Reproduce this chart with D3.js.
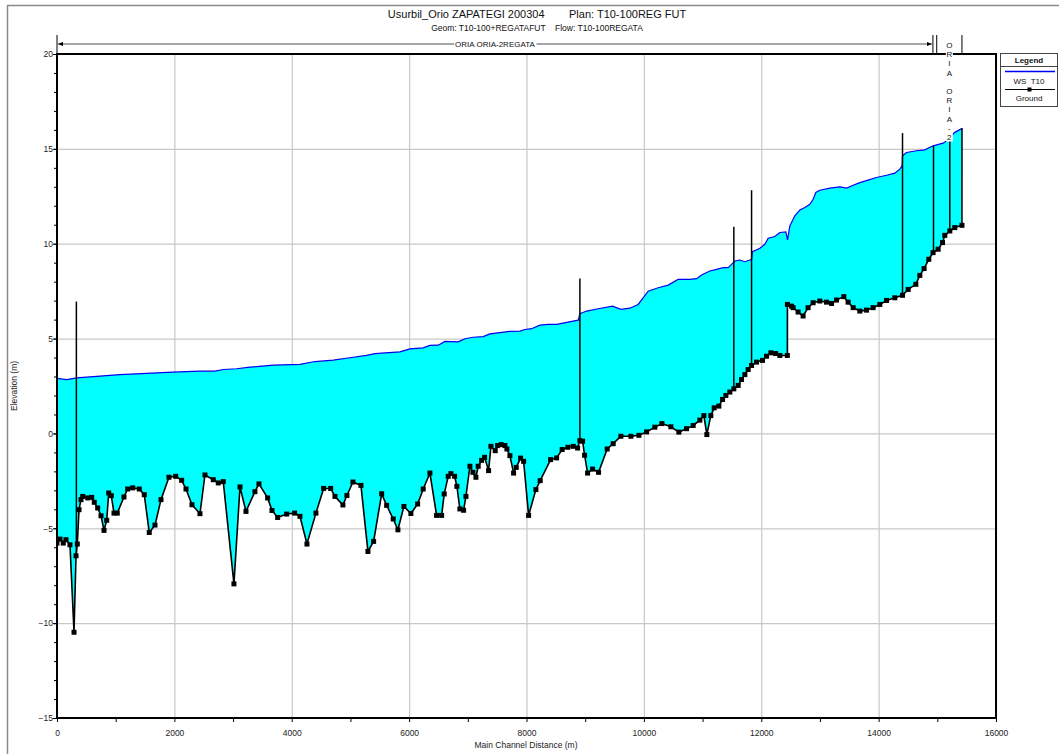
<!DOCTYPE html>
<html>
<head>
<meta charset="utf-8">
<script src="https://cdn.jsdelivr.net/npm/d3@7"></script>
<style>
  body { margin: 0; background: #fff; }
  svg { display: block; font-family: "Liberation Sans", Arial, sans-serif; }
</style>
</head>
<body>
<svg id="chart" width="1059" height="754"></svg>
<script>
// water surface profile (WS T10)
const wsDist = [0, 165, 336, 1073, 1976, 2436, 2692, 2833, 3061, 3288, 3685, 4140, 4395, 4707, 4991,
  5276, 5417, 5843, 6014, 6240, 6354, 6496, 6610, 6837, 6951, 7092, 7263, 7376, 7547, 7717, 7888,
  7973, 8087, 8228, 8370, 8513, 8881, 8910, 9024, 9221, 9467, 9608, 9761, 9903, 10073, 10244, 10414,
  10584, 10784, 10898, 10983, 11124, 11238, 11351, 11436, 11494, 11550, 11635, 11721, 11806, 11835,
  11852, 11976, 12061, 12118, 12232, 12317, 12419, 12448, 12487, 12572, 12658, 12743, 12828, 12884,
  12930, 12998, 13169, 13339, 13453, 13566, 13680, 13821, 13964, 14135, 14276, 14361, 14400, 14407,
  14475, 14645, 14787, 14928, 15099, 15156, 15241, 15298, 15425];
const wsElev = [2.9, 2.84, 2.93, 3.1, 3.23, 3.28, 3.28, 3.37, 3.41, 3.49, 3.6, 3.64, 3.79, 3.86, 3.99,
  4.11, 4.21, 4.3, 4.46, 4.51, 4.64, 4.65, 4.85, 4.83, 4.99, 5.07, 5.1, 5.25, 5.31, 5.38, 5.39,
  5.48, 5.52, 5.71, 5.75, 5.75, 5.97, 6.31, 6.45, 6.57, 6.71, 6.54, 6.6, 6.8, 7.5, 7.68, 7.82,
  8.12, 8.12, 8.16, 8.35, 8.56, 8.65, 8.74, 8.74, 8.91, 9.09, 9.14, 9.05, 9.14, 9.18,
  9.58, 9.76, 9.97, 10.29, 10.38, 10.59, 10.62, 10.2, 10.94, 11.47, 11.78, 11.91, 12.08, 12.34,
  12.7, 12.82, 12.93, 13.0, 12.93, 13.08, 13.22, 13.35, 13.49, 13.61, 13.72, 13.93, 14.1, 14.63,
  14.81, 14.9, 14.95, 15.16, 15.3, 15.42, 15.69, 15.87, 16.08];

// ground (channel invert) profile
const groundDist = [0, 51, 107, 153, 221, 290, 324, 346, 375, 409, 438, 523, 591, 635, 693, 750, 801,
  847, 881, 925, 971, 1027, 1141, 1204, 1290, 1402, 1487, 1572, 1670, 1772, 1908, 2022, 2124, 2198,
  2300, 2436, 2521, 2663, 2748, 2833, 3015, 3118, 3220, 3373, 3441, 3589, 3663, 3760, 3913, 4049,
  4140, 4259, 4412, 4543, 4663, 4736, 4872, 4940, 5043, 5179, 5298, 5395, 5532, 5617, 5729, 5809,
  5911, 6030, 6145, 6240, 6354, 6468, 6554, 6598, 6666, 6712, 6775, 6814, 6865, 6928, 6968, 7036,
  7087, 7138, 7177, 7235, 7286, 7354, 7394, 7467, 7508, 7569, 7632, 7666, 7717, 7780, 7825, 7899,
  7951, 8036, 8160, 8233, 8411, 8513, 8608, 8705, 8796, 8871, 8910, 8956, 8990, 9041, 9126, 9228,
  9375, 9477, 9608, 9779, 9915, 10046, 10187, 10307, 10460, 10596, 10727, 10840, 10954, 11022, 11073,
  11141, 11198, 11278, 11341, 11397, 11465, 11533, 11607, 11664, 11721, 11777, 11835, 11920, 12022,
  12090, 12164, 12244, 12317, 12445, 12446, 12516, 12543, 12628, 12713, 12798, 12884, 12998, 13112,
  13198, 13283, 13407, 13480, 13566, 13680, 13794, 13906, 14020, 14135, 14276, 14407, 14503, 14634,
  14702, 14775, 14855, 14928, 15014, 15089, 15128, 15213, 15298, 15420];
const groundElev = [-5.78, -5.57, -5.78, -5.6, -5.87, -10.48, -6.45, -5.83, -4.02, -3.49, -3.32, -3.4,
  -3.37, -3.63, -3.93, -4.34, -5.11, -4.58, -3.14, -3.28, -4.2, -4.2, -3.35, -2.93, -2.87, -2.93, -3.23,
  -5.22, -4.83, -3.49, -2.31, -2.26, -2.47, -2.93, -3.76, -4.23, -2.19, -2.44, -2.61, -2.54, -7.93,
  -2.82, -4.11, -3.07, -2.66, -3.4, -4.06, -4.43, -4.25, -4.2, -4.37, -5.83, -4.2, -2.9, -2.9, -3.32,
  -3.77, -3.27, -2.56, -2.74, -6.22, -5.69, -3.18, -3.79, -4.51, -5.08, -3.85, -4.22, -3.72, -2.93,
  -2.09, -4.32, -4.32, -3.19, -2.26, -2.12, -2.26, -2.79, -3.98, -4.05, -3.32, -1.73, -2.05, -2.31,
  -1.73, -1.42, -1.26, -1.96, -0.68, -0.91, -0.64, -0.59, -0.64, -0.82, -1.17, -2.09, -1.79, -1.3,
  -1.47, -4.32, -2.96, -2.49, -1.38, -1.29, -0.85, -0.73, -0.68, -0.77, -0.38, -0.41, -1.15, -2.09,
  -1.88, -2.05, -0.82, -0.54, -0.15, -0.15, -0.1, 0.08, 0.33, 0.52, 0.35, 0.07, 0.25, 0.42, 0.7,
  0.94, -0.06, 0.94, 1.35, 1.44, 1.79, 2.0, 2.18, 2.35, 2.53, 2.84, 3.1, 3.37, 3.58, 3.76, 3.85,
  4.07, 4.25, 4.21, 4.11, 4.11, 6.8, 6.71, 6.63, 6.4, 6.19, 6.63, 6.89, 6.98, 6.92, 6.85, 7.03,
  7.21, 6.92, 6.63, 6.45, 6.5, 6.63, 6.8, 7.01, 7.15, 7.28, 7.59, 7.86, 8.33, 8.69, 9.18, 9.53,
  9.71, 10.06, 10.44, 10.67, 10.85, 10.97];

// bridges / inline structures drawn as vertical lines
const structDist = [330, 8910, 11533, 11835, 14407, 14935, 15213, 15420];
const structBottom = [-6.45, -0.38, 2.35, 3.58, 7.28, 9.55, 10.67, 10.97];
const structTop = [6.95, 8.16, 10.9, 12.82, 15.83, 15.15, 15.6, 16.08];

// reaches along the top
const reachNames = ["ORIA ORIA-2REGATA", "ORIA ORIA-2"];
const reachStart = [0, 14990];
const reachEnd = [14925, 15420];

const xTicks = d3.range(0, 16001, 2000);
const yTicks = d3.range(-15, 21, 5);

const svg = d3.select('#chart');
const pL = 57, pR = 996, pT = 54, pB = 718;

const x = d3.scaleLinear().domain([0, 16000]).range([pL, pR]);
const y = d3.scaleLinear().domain([-15, 20]).range([pB, pT]);

// outer frame
svg.append('rect')
  .attr('x', 7.5).attr('y', 5.5).attr('width', 1060).attr('height', 760)
  .attr('fill', 'none').attr('stroke', '#8a8a8a').attr('stroke-width', 1.5);

// title
svg.append('text').attr('x', 537).attr('y', 18).attr('text-anchor', 'middle')
  .attr('font-size', 11).attr('fill', '#111')
  .style('white-space', 'pre')
  .text('Usurbil_Orio ZAPATEGI 200304        Plan: T10-100REG FUT');
svg.append('text').attr('x', 537).attr('y', 31).attr('text-anchor', 'middle')
  .attr('font-size', 8.5).attr('fill', '#111')
  .style('white-space', 'pre')
  .text('Geom: T10-100+REGATAFUT    Flow: T10-100REGATA');

// grid
svg.append('g')
  .attr('transform', `translate(0,${pB})`)
  .call(d3.axisBottom(x).tickValues(xTicks).tickSize(-(pB - pT)).tickFormat(''))
  .call(g => g.select('.domain').remove())
  .call(g => g.selectAll('line').attr('stroke', '#c8c8c8').attr('stroke-width', 1.2));
svg.append('g')
  .attr('transform', `translate(${pL},0)`)
  .call(d3.axisLeft(y).tickValues(yTicks).tickSize(-(pR - pL)).tickFormat(''))
  .call(g => g.select('.domain').remove())
  .call(g => g.selectAll('line').attr('stroke', '#c8c8c8').attr('stroke-width', 1.2));

// clip to plot
svg.append('clipPath').attr('id', 'plot-clip')
  .append('rect').attr('x', pL).attr('y', pT).attr('width', pR - pL).attr('height', pB - pT);
const plot = svg.append('g').attr('clip-path', 'url(#plot-clip)');

const ws = wsDist.map((d, i) => [d, wsElev[i]]);
const ground = groundDist.map((d, i) => [d, groundElev[i]]);

const line = d3.line().x(d => x(d[0])).y(d => y(d[1]));

// water between surface and ground
plot.append('path')
  .attr('d', line(ws.concat(ground.slice().reverse())) + 'Z')
  .attr('fill', '#00ffff');

plot.append('path')
  .attr('d', line(ws))
  .attr('fill', 'none').attr('stroke', '#0000ee').attr('stroke-width', 1.2);

// structures
plot.selectAll('line.struct')
  .data(structDist)
  .join('line')
  .attr('class', 'struct')
  .attr('x1', d => x(d)).attr('x2', d => x(d))
  .attr('y1', (d, i) => y(structBottom[i]))
  .attr('y2', (d, i) => y(structTop[i]))
  .attr('stroke', '#000').attr('stroke-width', 1.5);

plot.append('path')
  .attr('d', line(ground))
  .attr('fill', 'none').attr('stroke', '#000').attr('stroke-width', 1.6);

plot.selectAll('rect.gpt')
  .data(ground)
  .join('rect')
  .attr('class', 'gpt')
  .attr('x', d => x(d[0]) - 2.5).attr('y', d => y(d[1]) - 2.5)
  .attr('width', 5).attr('height', 5)
  .attr('fill', '#000');

// plot frame
svg.append('rect')
  .attr('x', pL).attr('y', pT).attr('width', pR - pL).attr('height', pB - pT)
  .attr('fill', 'none').attr('stroke', '#000').attr('stroke-width', 2);

// axes: labels and small ticks
const xAxis = svg.append('g').attr('transform', `translate(0,${pB})`)
  .call(d3.axisBottom(x).tickValues(d3.range(0, 16001, 1000)).tickSize(4)
    .tickFormat(d => d % 2000 === 0 ? d : ''));
xAxis.select('.domain').remove();
xAxis.selectAll('line').attr('stroke', '#000');
xAxis.selectAll('text').attr('font-size', 8.5).attr('fill', '#222').attr('y', 12).attr('dy', '0.71em')
  .attr('font-family', '"Liberation Sans", Arial, sans-serif');

const yMinor = svg.append('g').attr('transform', `translate(${pL},0)`)
  .call(d3.axisLeft(y).tickValues(d3.range(-15, 20.1, 1)).tickSize(3).tickFormat(''));
yMinor.select('.domain').remove();
yMinor.selectAll('line').attr('stroke', '#000');

const yAxis = svg.append('g').attr('transform', `translate(${pL},0)`)
  .call(d3.axisLeft(y).tickValues(yTicks).tickSize(4));
yAxis.select('.domain').remove();
yAxis.selectAll('line').attr('stroke', '#000');
yAxis.selectAll('text').attr('font-size', 8.5).attr('fill', '#222').attr('x', -4)
  .attr('font-family', '"Liberation Sans", Arial, sans-serif');

svg.append('text').attr('x', 526).attr('y', 748).attr('text-anchor', 'middle')
  .attr('font-size', 8.5).attr('fill', '#222').text('Main Channel Distance (m)');
svg.append('text').attr('transform', 'translate(17,386) rotate(-90)').attr('text-anchor', 'middle')
  .attr('font-size', 8.5).attr('fill', '#222').text('Elevation (m)');

// reach markers on top
const reachY = 44;
svg.append('defs').append('marker')
  .attr('id', 'arr').attr('viewBox', '0 0 6 6').attr('refX', 6).attr('refY', 3)
  .attr('markerWidth', 5).attr('markerHeight', 5).attr('markerUnits', 'userSpaceOnUse')
  .attr('orient', 'auto-start-reverse')
  .append('path').attr('d', 'M0,0.5 L6,3 L0,5.5 Z').attr('fill', '#000');

[reachStart[0], reachEnd[0], reachStart[1], reachEnd[1]].forEach(d => {
  svg.append('line').attr('x1', x(d)).attr('x2', x(d)).attr('y1', 35).attr('y2', pT)
    .attr('stroke', '#000').attr('stroke-width', 1);
});
svg.append('line')
  .attr('x1', x(reachStart[0]) + 1).attr('x2', x(reachEnd[0]) - 1)
  .attr('y1', reachY).attr('y2', reachY)
  .attr('stroke', '#888').attr('stroke-width', 1.5)
  .attr('marker-start', 'url(#arr)').attr('marker-end', 'url(#arr)');

const rl = svg.append('text')
  .attr('x', (x(reachStart[0]) + x(reachEnd[0])) / 2).attr('y', reachY + 3)
  .attr('text-anchor', 'middle').attr('font-size', 8).attr('fill', '#111')
  .text(reachNames[0]);
const bb = rl.node().getBBox();
svg.insert('rect', () => rl.node())
  .attr('x', bb.x - 1).attr('y', bb.y).attr('width', bb.width + 2).attr('height', bb.height)
  .attr('fill', '#fff');

// second reach name, written vertically one letter per row
const cx = (x(reachStart[1]) + x(reachEnd[1])) / 2;
const letters = reachNames[1].split('');
const vy = d3.scaleLinear().domain([0, letters.length - 1]).range([48, 140]);
letters.forEach((c, i) => {
  if (c === ' ') return;
  svg.append('rect').attr('x', cx - 3.5).attr('y', vy(i) - 7).attr('width', 7).attr('height', 8.5)
    .attr('fill', '#fff');
  svg.append('text').attr('x', cx).attr('y', vy(i)).attr('text-anchor', 'middle')
    .attr('font-size', 8).attr('fill', '#111').text(c);
});

// legend
const lg = svg.append('g').attr('transform', 'translate(1000,53)');
lg.append('rect').attr('x', 0.5).attr('y', 0.5).attr('width', 57).attr('height', 53)
  .attr('fill', '#fff').attr('stroke', '#444').attr('stroke-width', 1);
lg.append('text').attr('x', 29).attr('y', 10).attr('text-anchor', 'middle')
  .attr('font-size', 8).attr('font-weight', 'bold').attr('fill', '#111').text('Legend');
lg.append('line').attr('x1', 0.5).attr('x2', 57.5).attr('y1', 13.5).attr('y2', 13.5)
  .attr('stroke', '#444');
lg.append('line').attr('x1', 5).attr('x2', 55).attr('y1', 18.5).attr('y2', 18.5)
  .attr('stroke', '#0000ff').attr('stroke-width', 1.3);
lg.append('text').attr('x', 29).attr('y', 31).attr('text-anchor', 'middle')
  .attr('font-size', 8).attr('fill', '#111').style('white-space', 'pre').text('WS  T10');
lg.append('line').attr('x1', 5).attr('x2', 55).attr('y1', 36.5).attr('y2', 36.5)
  .attr('stroke', '#000').attr('stroke-width', 1);
lg.append('rect').attr('x', 27.5).attr('y', 34.5).attr('width', 4).attr('height', 4).attr('fill', '#000');
lg.append('text').attr('x', 29).attr('y', 48).attr('text-anchor', 'middle')
  .attr('font-size', 8).attr('fill', '#111').text('Ground');
</script>
</body>
</html>
